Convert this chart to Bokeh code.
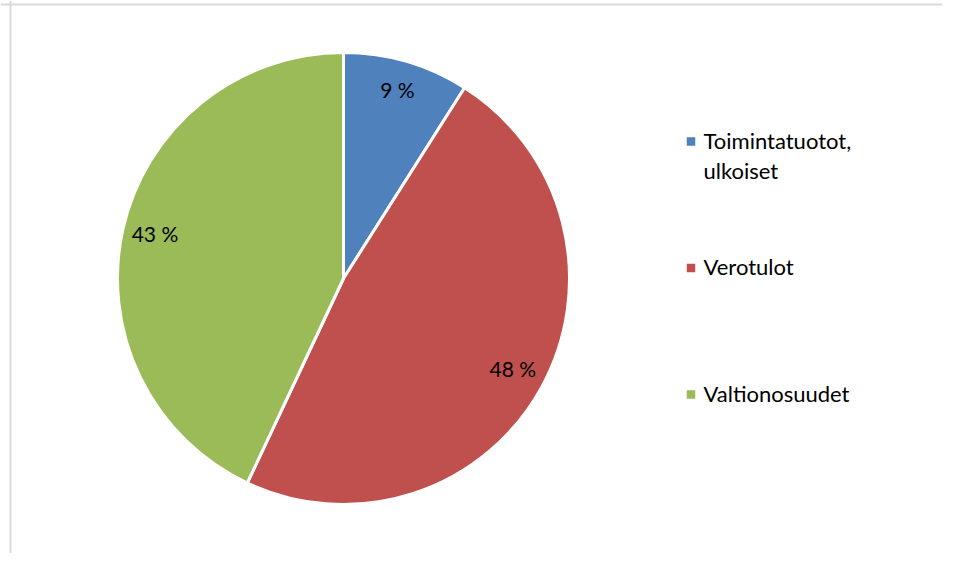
import math
from bokeh.plotting import figure
from bokeh.models import Range1d, ColumnDataSource, Span
from bokeh.core.properties import value
from bokeh.embed import file_html
from bokeh.resources import INLINE

# data
categories = ["Toimintatuotot,\nulkoiset", "Verotulot", "Valtionosuudet"]
shares = [9, 48, 43]
labels = ["9 %", "48 %", "43 %"]
colors = ["#4F81BD", "#C0504D", "#9BBB59"]

W, H = 942, 553
p = figure(width=W, height=H, output_backend="svg", toolbar_location=None,
           x_range=Range1d(0, W), y_range=Range1d(569 - H, 569),
           min_border=0)
p.axis.visible = False
p.grid.visible = False
p.outline_line_color = None
p.background_fill_color = "white"

# frame lines (left and top)
p.add_layout(Span(location=10, dimension="height", line_color="#d9d9d9", line_width=2))
p.add_layout(Span(location=569 - 4, dimension="width", line_color="#d9d9d9", line_width=2))

cx, cy, R = 343, 569 - 278, 226
total = sum(shares)
starts, ends, lx, ly = [], [], [], []
cum = 0.0
for s in shares:
    a0 = cum / total
    cum += s
    a1 = cum / total
    starts.append(math.pi / 2 - a1 * 2 * math.pi)
    ends.append(math.pi / 2 - a0 * 2 * math.pi)
    mid = math.pi / 2 - (a0 + a1) / 2 * 2 * math.pi
    lx.append(cx + 0.855 * R * math.cos(mid))
    ly.append(cy + 0.855 * R * math.sin(mid) + 3)

src = ColumnDataSource(dict(start=starts, end=ends, color=colors, lx=lx, ly=ly, label=labels))
p.wedge(x=cx, y=cy, radius=R, start_angle="start", end_angle="end",
        fill_color="color", line_color="white", line_width=3, source=src)
p.text(x="lx", y="ly", text="label", source=src, text_align="center",
       text_baseline="middle", text_font=value("Lato"), text_font_size="21px",
       text_color="#000000")

# legend
leg_y = [569 - 141, 569 - 267.5, 569 - 394]
lsrc = ColumnDataSource(dict(y=leg_y, name=categories, color=colors,
                             ty=[y + 15 for y in leg_y]))
p.scatter(x=690.5, y="y", marker="square", size=8.5, fill_color="color",
          line_color=None, source=lsrc)
p.text(x=703, y="ty", text="name", source=lsrc, text_align="left",
       text_baseline="top", text_font=value("Lato"), text_font_size="22px",
       text_line_height=1.12, text_color="#000000")

open("out.html", "w").write(file_html(p, INLINE))
